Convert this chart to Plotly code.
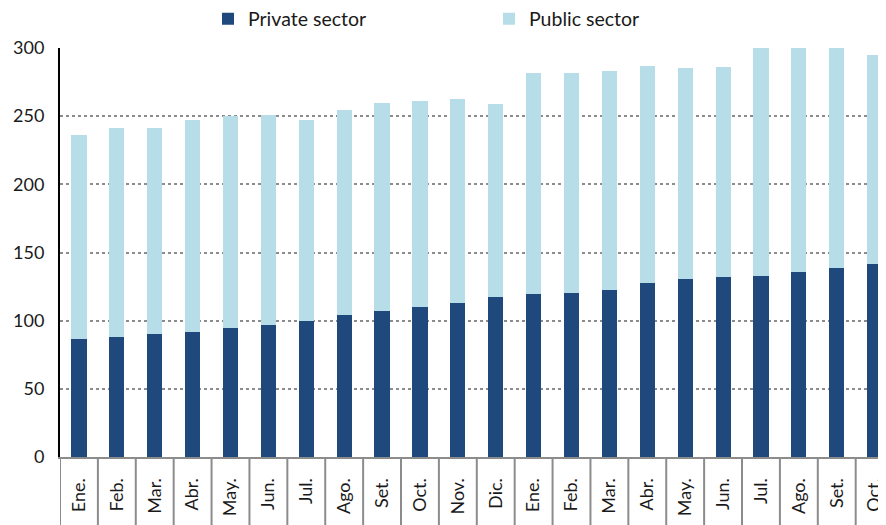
import plotly.graph_objects as go

months = ["Ene.", "Feb.", "Mar.", "Abr.", "May.", "Jun.", "Jul.", "Ago.", "Set.", "Oct.", "Nov.", "Dic.",
          "Ene.", "Feb.", "Mar.", "Abr.", "May.", "Jun.", "Jul.", "Ago.", "Set.", "Oct."]
private = [86.5, 88, 90, 91.6, 94.3, 96.5, 100, 104.4, 107.3, 110.3, 113.2, 117,
           119.5, 120.5, 122.5, 127.6, 130.5, 132, 132.7, 135.6, 138.6, 141.5]
total = [236, 241, 241, 247, 250, 250.5, 247, 254.4, 259.8, 261, 262.5, 258.8,
         282, 281.5, 283, 286.7, 285.4, 286.4, 306, 308, 307, 295]
public = [t - p for t, p in zip(total, private)]
xpos = list(range(len(months)))

fnt = "Lato, 'Open Sans', sans-serif"
# page body has an 8px default margin; figure is sized to fill the rest of the window
FIG_W, FIG_H = 878, 517
M_L, M_T, M_B = 52, 40, 68
PLOT_H = FIG_H - M_T - M_B
PLOT_W = FIG_W - M_L

fig = go.Figure()
fig.add_trace(go.Bar(x=xpos, y=private, name="Private sector", marker_color="#1F497D",
                     marker_line_width=0, width=0.4))
fig.add_trace(go.Bar(x=xpos, y=public, name="Public sector", marker_color="#B7DEE8",
                     marker_line_width=0, width=0.4))

shapes = []
for i in range(len(months) + 1):
    shapes.append(dict(type="line", xref="x", yref="paper", x0=i - 0.5, x1=i - 0.5,
                       y0=0, y1=-0.2, line=dict(color="#8c8c8c", width=2), layer="above"))

fig.update_layout(
    barmode="stack",
    width=FIG_W, height=FIG_H,
    margin=dict(l=M_L, r=0, t=M_T, b=M_B, pad=0, autoexpand=False),
    paper_bgcolor="white", plot_bgcolor="white",
    font=dict(family=fnt, size=16, color="#1a1a1a"),
    showlegend=True,
    legend=dict(orientation="h", x=(208 - 60) / PLOT_W, xanchor="left",
                y=1 + (M_T - 11) / PLOT_H, yanchor="middle",
                entrywidth=236, entrywidthmode="pixels",
                font=dict(size=19.5, family=fnt), traceorder="normal", bgcolor="rgba(0,0,0,0)"),
    shapes=shapes,
    bargap=0.6,
)
fig.update_xaxes(range=[-0.5, 21.3], tickmode="array", tickvals=xpos, ticktext=months,
                 tickangle=-90, ticks="", showline=True, linecolor="#8c8c8c", linewidth=2,
                 showgrid=False, zeroline=False, tickfont=dict(size=18, family=fnt),
                 ticklabelstandoff=12)
fig.update_yaxes(range=[0, 300], tickvals=[0, 50, 100, 150, 200, 250, 300], ticks="",
                 showline=True, linecolor="black", linewidth=2, showgrid=True,
                 gridcolor="#8c8c8c", gridwidth=1.5, griddash="dot", zeroline=False,
                 tickfont=dict(size=18, family=fnt), ticklabelstandoff=10)

fig.write_html("out.html")
